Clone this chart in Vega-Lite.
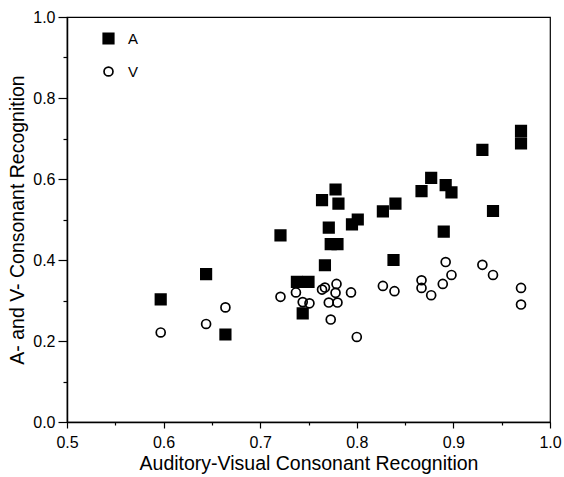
{
  "$schema": "https://vega.github.io/schema/vega-lite/v6.json",
  "width": 483,
  "height": 405,
  "autosize": {"type": "none"},
  "padding": {"left": 67, "top": 17, "right": 14, "bottom": 55},
  "background": "white",
  "config": {
    "font": "Liberation Sans",
    "view": {"stroke": "black", "strokeWidth": 1.2},
    "legend": {
      "title": null,
      "orient": "none",
      "legendX": 34,
      "legendY": 14,
      "labelFontSize": 15,
      "labelColor": "black",
      "labelOffset": 12,
      "rowPadding": 15,
      "symbolStrokeColor": "black",
      "symbolStrokeWidth": 1.7
    }
  },
  "data": {
    "values": [
      {"av": 0.597, "score": 0.303, "series": "A"},
      {"av": 0.644, "score": 0.365, "series": "A"},
      {"av": 0.664, "score": 0.216, "series": "A"},
      {"av": 0.721, "score": 0.461, "series": "A"},
      {"av": 0.738, "score": 0.346, "series": "A"},
      {"av": 0.750, "score": 0.346, "series": "A"},
      {"av": 0.744, "score": 0.268, "series": "A"},
      {"av": 0.767, "score": 0.387, "series": "A"},
      {"av": 0.771, "score": 0.480, "series": "A"},
      {"av": 0.773, "score": 0.439, "series": "A"},
      {"av": 0.780, "score": 0.439, "series": "A"},
      {"av": 0.764, "score": 0.548, "series": "A"},
      {"av": 0.778, "score": 0.574, "series": "A"},
      {"av": 0.781, "score": 0.539, "series": "A"},
      {"av": 0.795, "score": 0.488, "series": "A"},
      {"av": 0.801, "score": 0.500, "series": "A"},
      {"av": 0.827, "score": 0.520, "series": "A"},
      {"av": 0.840, "score": 0.539, "series": "A"},
      {"av": 0.838, "score": 0.400, "series": "A"},
      {"av": 0.867, "score": 0.570, "series": "A"},
      {"av": 0.877, "score": 0.603, "series": "A"},
      {"av": 0.892, "score": 0.585, "series": "A"},
      {"av": 0.898, "score": 0.567, "series": "A"},
      {"av": 0.890, "score": 0.470, "series": "A"},
      {"av": 0.930, "score": 0.672, "series": "A"},
      {"av": 0.941, "score": 0.521, "series": "A"},
      {"av": 0.970, "score": 0.719, "series": "A"},
      {"av": 0.970, "score": 0.688, "series": "A"},
      {"av": 0.597, "score": 0.221, "series": "V"},
      {"av": 0.644, "score": 0.242, "series": "V"},
      {"av": 0.664, "score": 0.283, "series": "V"},
      {"av": 0.721, "score": 0.309, "series": "V"},
      {"av": 0.737, "score": 0.320, "series": "V"},
      {"av": 0.744, "score": 0.296, "series": "V"},
      {"av": 0.751, "score": 0.293, "series": "V"},
      {"av": 0.764, "score": 0.327, "series": "V"},
      {"av": 0.767, "score": 0.332, "series": "V"},
      {"av": 0.779, "score": 0.341, "series": "V"},
      {"av": 0.778, "score": 0.319, "series": "V"},
      {"av": 0.771, "score": 0.295, "series": "V"},
      {"av": 0.780, "score": 0.295, "series": "V"},
      {"av": 0.773, "score": 0.253, "series": "V"},
      {"av": 0.794, "score": 0.320, "series": "V"},
      {"av": 0.800, "score": 0.210, "series": "V"},
      {"av": 0.827, "score": 0.336, "series": "V"},
      {"av": 0.839, "score": 0.323, "series": "V"},
      {"av": 0.867, "score": 0.350, "series": "V"},
      {"av": 0.867, "score": 0.331, "series": "V"},
      {"av": 0.877, "score": 0.313, "series": "V"},
      {"av": 0.889, "score": 0.341, "series": "V"},
      {"av": 0.898, "score": 0.363, "series": "V"},
      {"av": 0.892, "score": 0.395, "series": "V"},
      {"av": 0.930, "score": 0.388, "series": "V"},
      {"av": 0.941, "score": 0.363, "series": "V"},
      {"av": 0.970, "score": 0.331, "series": "V"},
      {"av": 0.970, "score": 0.290, "series": "V"}
    ]
  },
  "mark": {"type": "point", "strokeWidth": 1.7, "opacity": 1},
  "encoding": {
    "x": {
      "field": "av",
      "type": "quantitative",
      "scale": {"domain": [0.5, 1.0], "nice": false, "zero": false},
      "axis": {
        "title": "Auditory-Visual Consonant Recognition",
        "values": [0.5, 0.55, 0.6, 0.65, 0.7, 0.75, 0.8, 0.85, 0.9, 0.95, 1.0],
        "labelExpr": "abs(datum.value*10 - round(datum.value*10)) < 0.001 ? format(datum.value, '.1f') : ''",
        "tickSize": {"condition": {"test": "abs(datum.value*10 - round(datum.value*10)) < 0.001", "value": 6}, "value": 3},
        "grid": false,
        "domainColor": "black",
        "domainWidth": 1.5,
        "tickColor": "black",
        "tickWidth": 1.2,
        "labelColor": "black",
        "labelFontSize": 16,
        "labelPadding": 6,
        "labelFlush": false,
        "titleColor": "black",
        "titleFontSize": 19.5,
        "titleFontWeight": "normal",
        "titlePadding": 4
      }
    },
    "y": {
      "field": "score",
      "type": "quantitative",
      "scale": {"domain": [0, 1.0], "nice": false},
      "axis": {
        "title": "A- and V- Consonant Recognition",
        "values": [0, 0.1, 0.2, 0.3, 0.4, 0.5, 0.6, 0.7, 0.8, 0.9, 1.0],
        "labelExpr": "abs(datum.value*5 - round(datum.value*5)) < 0.001 ? format(datum.value, '.1f') : ''",
        "tickSize": {"condition": {"test": "abs(datum.value*5 - round(datum.value*5)) < 0.001", "value": 9}, "value": 4},
        "grid": false,
        "domainColor": "black",
        "domainWidth": 1.5,
        "tickColor": "black",
        "tickWidth": 1.2,
        "labelColor": "black",
        "labelFontSize": 16,
        "labelPadding": 3,
        "labelFlush": false,
        "titleColor": "black",
        "titleFontSize": 19.5,
        "titleFontWeight": "normal",
        "titlePadding": 5
      }
    },
    "shape": {
      "field": "series",
      "type": "nominal",
      "scale": {"domain": ["A", "V"], "range": ["square", "circle"]}
    },
    "fill": {
      "field": "series",
      "type": "nominal",
      "scale": {"domain": ["A", "V"], "range": ["black", "transparent"]}
    },
    "stroke": {
      "field": "series",
      "type": "nominal",
      "scale": {"domain": ["A", "V"], "range": ["black", "black"]}
    },
    "size": {
      "field": "series",
      "type": "nominal",
      "scale": {"domain": ["A", "V"], "range": [110, 80]}
    }
  }
}
